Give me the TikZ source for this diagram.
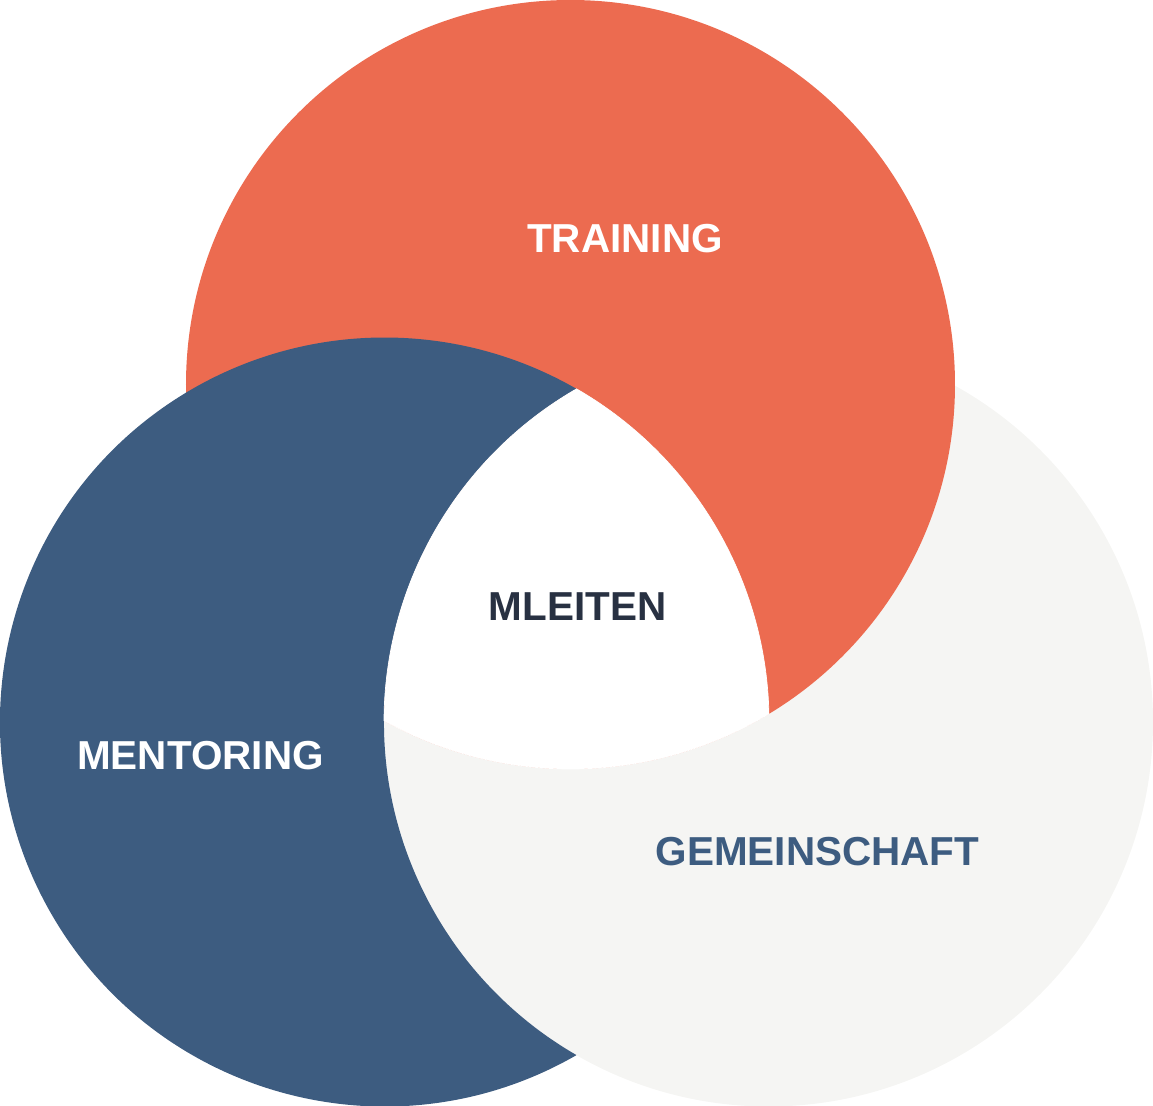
\documentclass[tikz,border=0pt]{standalone}
\usepackage{fontspec}
\setmainfont{Liberation Sans}
\usepackage{tikz}
\usepackage{xcolor}

\definecolor{trainorange}{HTML}{EC6B50}
\definecolor{mentorblue}{HTML}{3D5C80}
\definecolor{gemeingray}{HTML}{F5F5F3}
\definecolor{mleitendark}{HTML}{283142}

\tikzset{
    venntext/.style={font=\fontsize{11.5}{13}\selectfont\bfseries, inner sep=0pt}
}

\begin{document}
\begin{tikzpicture}[x=0.01cm,y=-0.01cm]
    \useasboundingbox (0,0) rectangle (1153,1106);
    \coordinate (train) at (570.5,384.5);
    \coordinate (mentor) at (384.5,722);
    \coordinate (gemein) at (768.5,722);
    % where the circles cut each other
    \coordinate (V1) at (576.5,388.9);
    \coordinate (V4) at (576.5,1055.1);

    \fill [gemeingray] (gemein) circle [radius=384.5];
    \fill [trainorange] (train) circle [radius=384.5];

    % blue only outside the gray one
    \fill [mentorblue] (V4) arc [start angle=60.04, end angle=299.96, radius=384.5]
        arc [start angle=240.04, end angle=119.96, radius=384.5] -- cycle;

    % middle part of all three
    \filldraw [white, line width=0.2pt] (V1) arc [start angle=240.04, end angle=180.19, radius=384.5]
        arc [start angle=119.02, end angle=58.94, radius=384.5]
        arc [start angle=-1.21, end angle=-60.04, radius=384.5] -- cycle;

    \node[venntext,white] (T1) at (625,239) {TRAINING};
    \node[venntext,white] (M1) at (200.5,756) {MENTORING};
    \node[venntext,mentorblue] (G1) at (817.5,852) {GEMEINSCHAFT};
    \node[venntext,mleitendark] (L1) at (577.5,607) {MLEITEN};

\end{tikzpicture}
\end{document}
